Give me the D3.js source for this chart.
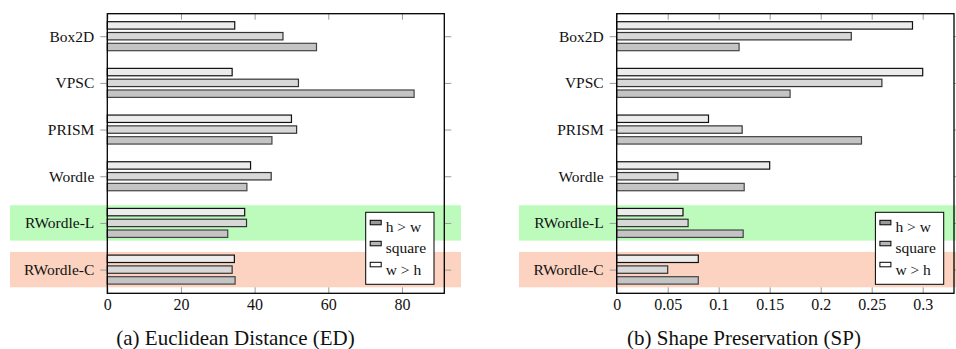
<!DOCTYPE html>
<html>
<head>
<meta charset="utf-8">
<script src="https://cdn.jsdelivr.net/npm/d3@7"></script>
<style>
  html, body { margin: 0; padding: 0; background: #fff; }
  svg { display: block; }
  svg text { font-family: "Liberation Serif", "Times New Roman", Tinos, Times, "Nimbus Roman", "Noto Serif", "DejaVu Serif", FreeSerif, serif; }
  .tick line { stroke: #999; }
  .tick text { fill: #111; }
</style>
</head>
<body>
<div id="chart"></div>
<script>
// categories (top to bottom) and series, as in the legend
const categories = ['Box2D', 'VPSC', 'PRISM', 'Wordle', 'RWordle-L', 'RWordle-C'];
const seriesNames = ['h > w', 'square', 'w > h'];

// (a) Euclidean Distance
const edHW = [56.8, 83.3, 44.7, 37.9, 32.7, 34.7];
const edSquare = [47.7, 51.9, 51.4, 44.5, 37.8, 33.9];
const edWH = [34.6, 33.9, 50.0, 38.9, 37.3, 34.5];
const edTicks = [0, 20, 40, 60, 80];

// (b) Shape Preservation
const spHW = [0.120, 0.170, 0.240, 0.125, 0.124, 0.080];
const spSquare = [0.230, 0.260, 0.123, 0.060, 0.070, 0.050];
const spWH = [0.290, 0.300, 0.090, 0.150, 0.065, 0.080];
const spTicks = [0, 0.05, 0.1, 0.15, 0.2, 0.25, 0.3];

const highlighted = ['RWordle-L', 'RWordle-C'];
const highlightColors = ['#bdfbbd', '#fcd3c0'];

const W = 956, H = 349;
const svg = d3.select('#chart').append('svg').attr('width', W).attr('height', H);

// bar look per series (h>w is drawn lowest in each group)
const barFill = {'h > w': '#c4c4c4', 'square': '#d8d8d8', 'w > h': '#ececec'};
const barStroke = {'h > w': '#444', 'square': '#333', 'w > h': '#111'};
const legendFill = {'h > w': '#999', 'square': '#b5b5b5', 'w > h': '#fff'};
const barOffset = {'h > w': 10.8, 'square': 0, 'w > h': -10.8};

function drawPanel(p) {
  const g = svg.append('g');
  const x = d3.scaleLinear().domain([0, p.xMax]).range([p.left, p.right]);
  const y = d3.scalePoint().domain(categories).range([36.2, 269.6]);
  const top = 13.7, bottom = 293.3;

  // highlight bands
  highlighted.forEach((c, i) => {
    g.append('rect')
      .attr('x', p.bandX0).attr('width', p.bandX1 - p.bandX0)
      .attr('y', y(c) - 17.7).attr('height', 35.4)
      .attr('fill', highlightColors[i]);
  });

  // bars
  seriesNames.forEach(s => {
    const vals = p.values[s];
    g.selectAll(null).data(categories).enter().append('rect')
      .attr('x', x(0))
      .attr('y', (c) => y(c) + barOffset[s] - 3.7)
      .attr('width', (c, i) => x(vals[i]) - x(0))
      .attr('height', 7.4)
      .attr('fill', barFill[s])
      .attr('stroke', barStroke[s])
      .attr('stroke-width', 1.2);
  });

  // axes
  const gx = g.append('g').attr('transform', `translate(0,${bottom})`)
    .call(d3.axisBottom(x).tickValues(p.ticks).tickFormat(d => String(d)).tickSize(-6).tickPadding(5));
  gx.attr('font-family', null).selectAll('text').attr('font-size', 16);
  const gt = g.append('g').attr('transform', `translate(0,${top})`)
    .call(d3.axisTop(x).tickValues(p.ticks).tickFormat('').tickSize(-6));
  const gy = g.append('g').attr('transform', `translate(${p.left},0)`)
    .call(d3.axisLeft(y).tickSize(7).tickPadding(6));
  gy.attr('font-family', null).selectAll('text').attr('font-size', 15.5);
  const gr = g.append('g').attr('transform', `translate(${p.right},0)`)
    .call(d3.axisRight(y).tickSize(7).tickFormat(''));
  [gx, gt, gy, gr].forEach(a => a.select('.domain').remove());

  // frame
  g.append('rect')
    .attr('x', p.left).attr('y', top)
    .attr('width', p.right - p.left).attr('height', bottom - top)
    .attr('fill', 'none').attr('stroke', '#000').attr('stroke-width', 1.3);

  // legend
  const lw = 68.3, lh = 72;
  const lx = p.right - 10.3 - lw, ly = bottom - 9 - lh;
  const lg = g.append('g').attr('transform', `translate(${lx},${ly})`);
  lg.append('rect').attr('width', lw).attr('height', lh)
    .attr('fill', '#fff').attr('stroke', '#000').attr('stroke-width', 1);
  seriesNames.forEach((s, i) => {
    lg.append('rect')
      .attr('x', 4.5).attr('y', 8 + i * 21).attr('width', 11).attr('height', 4.5)
      .attr('fill', legendFill[s]).attr('stroke', '#000').attr('stroke-width', 1);
    lg.append('text')
      .attr('x', 20).attr('y', 19.6 + i * 21.6)
      .attr('font-size', 15.5).attr('fill', '#111')
      .text(s);
  });

  // caption
  g.append('text')
    .attr('x', (p.bandX0 + p.bandX1) / 2).attr('y', 345)
    .attr('text-anchor', 'middle').attr('font-size', 21).attr('fill', '#111')
    .text(p.caption);
}

drawPanel({
  left: 107.3, right: 444.3, xMax: 91.5, ticks: edTicks,
  bandX0: 10, bandX1: 461,
  values: {'h > w': edHW, 'square': edSquare, 'w > h': edWH},
  caption: '(a) Euclidean Distance (ED)'
});

drawPanel({
  left: 616.7, right: 954, xMax: 0.3307, ticks: spTicks,
  bandX0: 519, bandX1: 969,
  values: {'h > w': spHW, 'square': spSquare, 'w > h': spWH},
  caption: '(b) Shape Preservation (SP)'
});
</script>
</body>
</html>
